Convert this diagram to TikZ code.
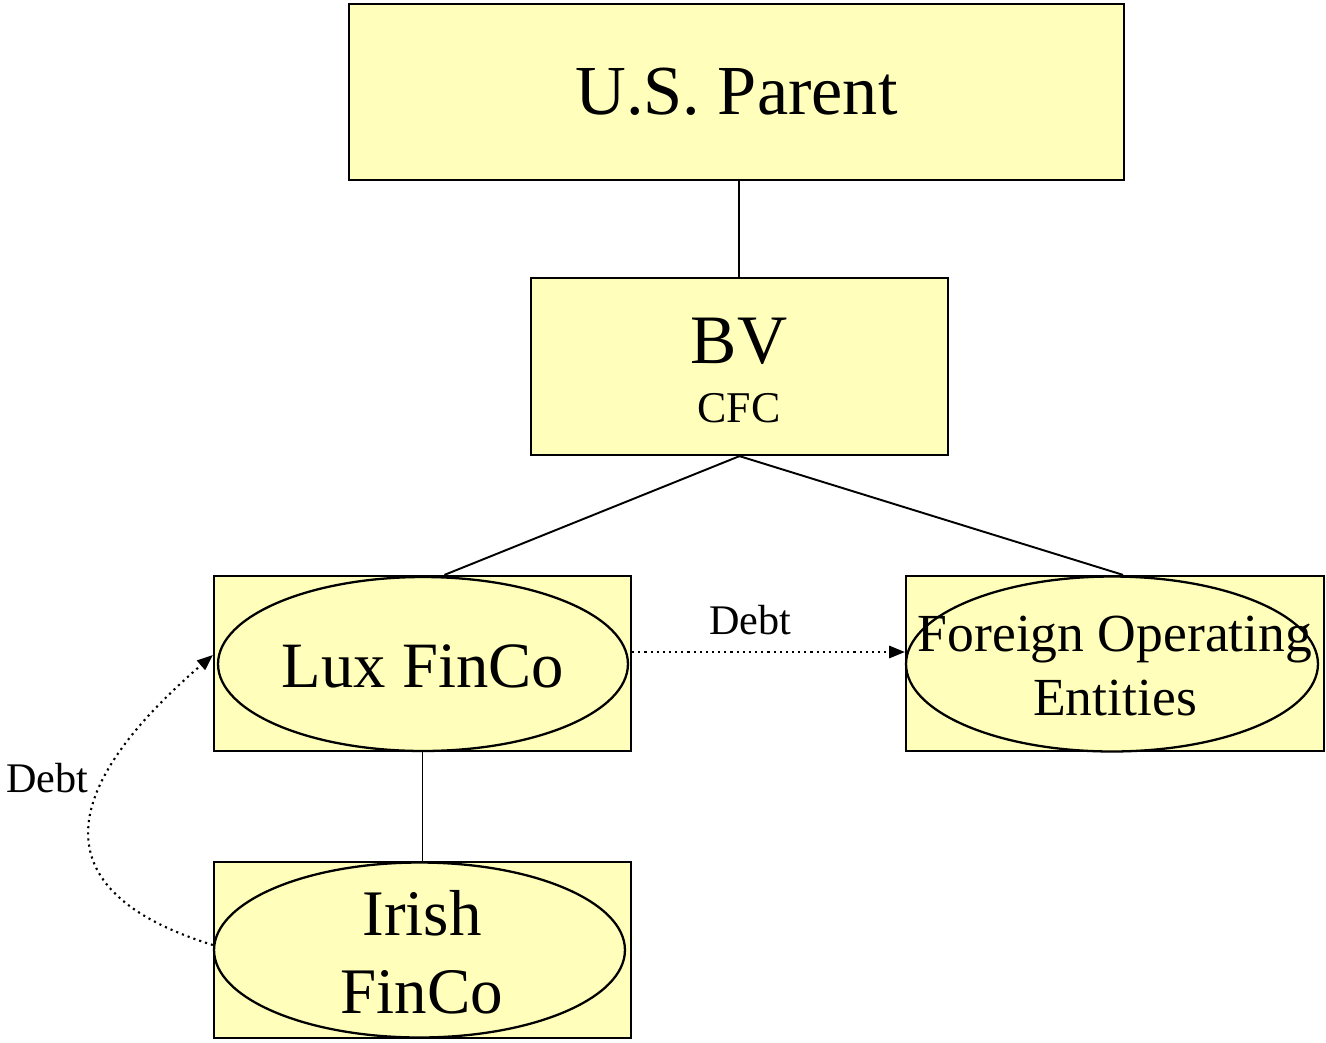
\documentclass[tikz,border=0pt]{standalone}
\usepackage{fontspec}
\setmainfont{Liberation Serif}
\usetikzlibrary{arrows.meta,shapes.geometric,calc}
\definecolor{boxfill}{RGB}{255,255,187}
\tikzset{
  ent/.style={draw=black,line width=1.3pt,fill=boxfill,rectangle,inner sep=0pt},
  oval/.style={draw=black,line width=1.3pt,fill=boxfill,ellipse,inner sep=0pt},
  txt/.style={inner sep=0pt,align=center},
  link/.style={line width=1.1pt},
  debtline/.style={line width=1.2pt,dash pattern=on 1.2pt off 2.3pt,-{Triangle[length=9pt,width=7pt]}},
  lbl/.style={font=\fontsize{24}{28}\selectfont,inner sep=0pt}
}
\begin{document}
\begin{tikzpicture}[x=0.02cm,y=-0.02cm]
\useasboundingbox (0,0) rectangle (1326,1042);
% boxes
\node[ent,minimum width=15.5cm,minimum height=3.52cm,font=\fontsize{40}{46}\selectfont] (us) at (736.5,92) {U.S. Parent};
\node[ent,minimum width=8.34cm,minimum height=3.54cm] (bv) at (739.5,366.5) {};
\node[anchor=base,inner sep=0pt,font=\fontsize{39.5}{44}\selectfont] (bvtext) at (739,363) {BV};
\node[anchor=base,inner sep=0pt,font=\fontsize{25}{28}\selectfont] (cfctext) at (739,422) {CFC};
\node[ent,minimum width=8.34cm,minimum height=3.5cm] (luxbox) at (422.5,663.5) {};
\node[oval,minimum width=8.2cm,minimum height=3.48cm] (lux) at (423,664) {};
\node[txt,font=\fontsize{36.8}{44}\selectfont] (luxtext) at (423,666) {Lux FinCo};
\node[ent,minimum width=8.36cm,minimum height=3.5cm] (forbox) at (1115,663.5) {};
\node[oval,minimum width=8.24cm,minimum height=3.5cm] (for) at (1112,664) {};
\node[txt,font=\fontsize{30.5}{36.5}\selectfont] (fortext) at (1115,666) {Foreign Operating\\Entities};
\node[ent,minimum width=8.34cm,minimum height=3.52cm] (irbox) at (422.5,950) {};
\node[oval,minimum width=8.22cm,minimum height=3.5cm] (ir) at (419.5,950) {};
\node[txt,font=\fontsize{37}{44.5}\selectfont] (irtext) at (422,952) {Irish\\FinCo};
% connectors
\draw[link] (us.south -| bv.north) ++(-0.5,0) coordinate (usb) -- (usb |- bv.north);
\draw[link] (bv.south) -- ([xshift=0.44cm]luxbox.north);
\draw[link] (bv.south) -- ([xshift=0.16cm]forbox.north);
\draw[link] (luxbox.south) -- (luxbox.south |- irbox.north);
% debt arrows
\draw[debtline] ([yshift=0.23cm]luxbox.east) -- ([yshift=0.23cm]forbox.west);
\node[lbl] (debt1) at (750,620) {Debt};
\draw[debtline] ([yshift=0.1cm]irbox.west) .. controls (35,890) and (62,785) .. ([yshift=0.17cm]luxbox.west);
\node[lbl] (debt2) at (47,778) {Debt};
\end{tikzpicture}
\end{document}
